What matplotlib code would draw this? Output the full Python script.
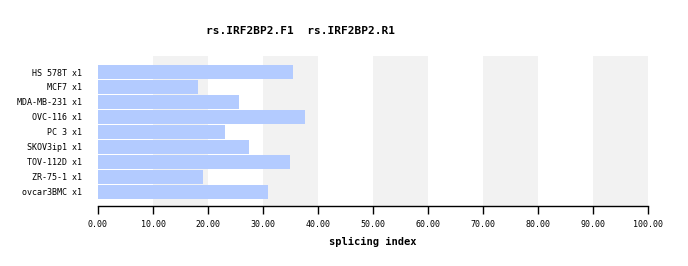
import matplotlib.pyplot as plt
import numpy as np

# data
samples = ["HS 578T x1", "MCF7 x1", "MDA-MB-231 x1", "OVC-116 x1", "PC 3 x1",
           "SKOV3ip1 x1", "TOV-112D x1", "ZR-75-1 x1", "ovcar3BMC x1"]
values = [35.5, 18.2, 25.6, 37.6, 23.1, 27.5, 34.9, 19.1, 30.9]
xticks = np.arange(0, 101, 10)

fig = plt.figure(figsize=(6.88, 2.66), dpi=100)
ax = fig.add_axes([98/688, 1 - 206/266, 550/688, 150/266])

# alternating background bands
for i in range(10, 100, 20):
    ax.axvspan(i, i + 10, color="#f2f2f2", zorder=0, lw=0)

y = np.arange(len(samples))
ax.barh(y, values, height=0.93, color="#b3cbff", zorder=2)

ax.set_xlim(0, 100)
ax.set_ylim(8.95, -1.07)
ax.set_xticks(xticks)
ax.set_xticklabels(["%.2f" % t for t in xticks], family="DejaVu Sans Mono", fontsize=6)
ax.set_yticks(y)
ax.set_yticklabels(samples, family="DejaVu Sans Mono", fontsize=6)
ax.tick_params(axis="y", length=0, pad=11.5)
ax.tick_params(axis="x", length=6, width=1, direction="out", pad=4)

for s in ["top", "right", "left"]:
    ax.spines[s].set_visible(False)
ax.spines["bottom"].set_linewidth(1)

ax.set_xlabel("splicing index", family="DejaVu Sans Mono", fontsize=7.5,
              fontweight="bold", labelpad=6)
fig.text(300/688, 1 - 31/266, "rs.IRF2BP2.F1  rs.IRF2BP2.R1", ha="center",
         va="center", family="DejaVu Sans Mono", fontsize=8, fontweight="bold")

fig.savefig("out.png", dpi=100)
